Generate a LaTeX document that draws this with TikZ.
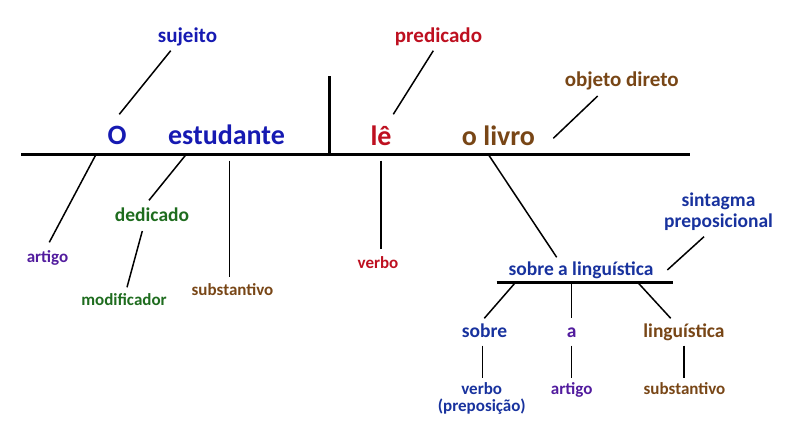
\documentclass[tikz,border=0pt]{standalone}
\usepackage{fontspec}
\setmainfont{Carlito}
\definecolor{cblue}{RGB}{22,26,178}
\definecolor{cnavy}{RGB}{24,50,158}
\definecolor{cred}{RGB}{190,16,32}
\definecolor{cbrown}{RGB}{120,70,22}
\definecolor{cgreen}{RGB}{30,108,30}
\definecolor{cpurple}{RGB}{82,28,158}
\tikzset{
  lbl/.style={anchor=base, inner sep=0pt, font=\bfseries},
  big/.style={lbl, font=\fontsize{28}{32}\selectfont\bfseries},
  mid/.style={lbl, font=\fontsize{21}{24}\selectfont\bfseries},
  med/.style={lbl, font=\fontsize{19.5}{22}\selectfont\bfseries},
  sml/.style={lbl, font=\fontsize{17}{20}\selectfont\bfseries},
  baseline/.style={line width=3pt},
  subline/.style={line width=2.5pt},
  conn/.style={line width=1.5pt}
}
\begin{document}
\begin{tikzpicture}[x=1pt,y=-1pt]
\useasboundingbox (0,0) rectangle (800,439);
% main sentence line
\coordinate (mL) at (21,154);
\coordinate (mR) at (690,154);
\coordinate (dT) at (329,76);
\coordinate (dB) at (329,154);
\draw[baseline] (mL) -- (mR);
\draw[baseline] (dT) -- (dB);
% upper words
\node[big, text=cblue] (o) at (117,144) {O};
\node[big, text=cblue] (est) at (226.5,144) {estudante};
\node[big, text=cred] (le) at (381,145) {lê};
\node[big, text=cbrown] (livro) at (498.5,145) {o livro};
\node[mid, text=cblue] (suj) at (187.5,42) {sujeito};
\node[mid, text=cred] (pred) at (438.5,42) {predicado};
\node[mid, text=cbrown] (obj) at (621.7,86) {objeto direto};
% labels below
\node[sml, text=cpurple] (art1) at (47.5,262) {artigo};
\node[med, text=cgreen] (ded) at (152,221) {dedicado};
\node[sml, text=cgreen] (mod) at (124,305) {modificador};
\node[sml, text=cbrown] (subs1) at (232.5,295) {substantivo};
\node[sml, text=cred] (verbo1) at (378,268) {verbo};
\node[med, text=cnavy] (sal) at (581,275) {sobre a linguística};
\node[med, text=cnavy, align=center] (sint) at (718.5,206) {sintagma};
\node[med, text=cnavy] (prep) at (718.5,227.7) {preposicional};
\node[med, text=cnavy] (sobre) at (484.5,337) {sobre};
\node[med, text=cpurple] (a) at (571.7,337) {a};
\node[med, text=cbrown] (ling) at (684,337) {linguística};
\node[sml, text=cnavy] (verbo2) at (481.7,394) {verbo};
\node[sml, text=cnavy] (prepo) at (481.7,411) {(preposição)};
\node[sml, text=cpurple] (art2) at (571.7,394) {artigo};
\node[sml, text=cbrown] (subs2) at (684.5,394) {substantivo};
% connector endpoints
\coordinate (sujA) at (170.7,50.7);   \coordinate (sujB) at (119.3,114.3);
\coordinate (predA) at (433.3,50.7);  \coordinate (predB) at (393.3,114.3);
\coordinate (objA) at (597.7,96);     \coordinate (objB) at (553.3,138.3);
\coordinate (artA) at (95.7,155);     \coordinate (artB) at (49.3,242.3);
\coordinate (dedA) at (185.7,155);    \coordinate (dedB) at (149,200.3);
\coordinate (modA) at (142.3,231);    \coordinate (modB) at (127,287.3);
\coordinate (subA) at (229.7,160.7);  \coordinate (subB) at (229.7,276.7);
\coordinate (verA) at (381,160.7);    \coordinate (verB) at (381,248.7);
\coordinate (livA) at (488.7,155);    \coordinate (livB) at (556.7,257.3);
\coordinate (sinA) at (704,236.7);    \coordinate (sinB) at (667.3,270);
\coordinate (sL) at (496.7,282.5);    \coordinate (sR) at (672.7,282.5);
\coordinate (sobA) at (515,283);      \coordinate (sobB) at (484.3,318.3);
\coordinate (aA) at (571.7,283);      \coordinate (aB) at (571.7,318.3);
\coordinate (linA) at (638.3,283);    \coordinate (linB) at (670.7,318.3);
\coordinate (v2A) at (482.7,345.7);   \coordinate (v2B) at (482.7,377.7);
\coordinate (a2A) at (571.7,345.7);   \coordinate (a2B) at (571.7,377.7);
\coordinate (l2A) at (684,345.7);     \coordinate (l2B) at (684,377.7);
\draw[subline] (sL) -- (sR);
\foreach \p in {suj,pred,obj,art,ded,mod,sub,ver,liv,sin,sob,a,lin,v2,a2,l2}
  \draw[conn] (\p A) -- (\p B);
\end{tikzpicture}
\end{document}
